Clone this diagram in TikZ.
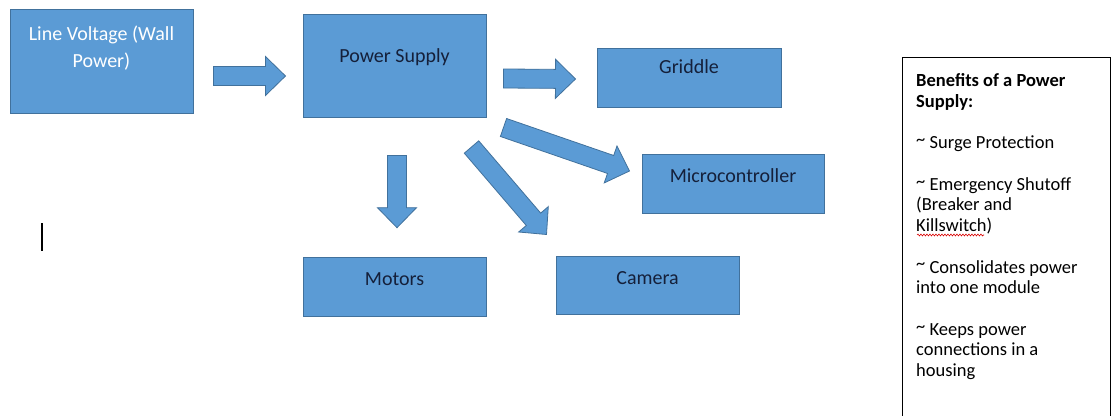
\documentclass[tikz,border=0pt]{standalone}
\usepackage{fontspec}
\setmainfont{Carlito}
\usepackage{xcolor}
\usepackage{tikz}
\usetikzlibrary{calc,positioning,decorations.pathmorphing}

\definecolor{boxfill}{HTML}{5B9BD5}
\definecolor{boxline}{HTML}{41719C}
\definecolor{txtdark}{HTML}{15203A}

\newcommand{\tld}{\raisebox{0.35ex}{\textasciitilde}}

% block arrow from #1 (tail centre) to #2 (tip)
\newcommand{\blockarrow}[2]{%
  \coordinate (ba-a) at (#1);
  \coordinate (ba-b) at (#2);
  \coordinate (ba-h) at ($(ba-b)!20pt!(ba-a)$);
  \filldraw[blockarr]
    ($(ba-a)!9.5pt!90:(ba-b)$) -- ($(ba-h)!9.5pt!90:(ba-b)$) --
    ($(ba-h)!19.5pt!90:(ba-b)$) -- (ba-b) --
    ($(ba-h)!19.5pt!-90:(ba-b)$) -- ($(ba-h)!9.5pt!-90:(ba-b)$) --
    ($(ba-a)!9.5pt!-90:(ba-b)$) -- cycle;}

\begin{document}
\begin{tikzpicture}[
  x=1pt, y=-1pt,
  box/.style={draw=boxline, fill=boxfill, line width=1pt, minimum width=183pt, inner sep=0pt},
  lbl/.style={font=\fontsize{20}{27}\selectfont, text=txtdark, inner sep=0pt, anchor=base, align=center},
  blockarr/.style={draw=boxline, fill=boxfill, line width=0.8pt, line join=miter},
  notebox/.style={draw=black, line width=1pt, minimum width=208pt, minimum height=420pt, anchor=north west, inner sep=0pt},
  notetxt/.style={font=\fontsize{18.5}{20.8}\selectfont, text=black, inner sep=0pt, anchor=north west, align=left},
  squiggle/.style={draw=red!85!black, line width=0.6pt, decorate, decoration={snake, amplitude=0.9pt, segment length=3pt}}
]
  \path[use as bounding box, fill=white] (0,0) rectangle (1111,415);
  \clip (0,0) rectangle (1111,415);

  % Boxes
  \node[box, minimum height=104pt] (wall) at (101.5,61) {};
  \node[box, minimum height=103pt] (psu) at (394.5,65.5) {};
  \node[box, minimum width=184pt, minimum height=59pt] (griddle) at (689,77.5) {};
  \node[box, minimum width=182pt, minimum height=59pt] (micro) at (733,183.5) {};
  \node[box, minimum height=59pt] (motors) at (394.5,286.7) {};
  \node[box, minimum height=58pt] (camera) at (647.5,285) {};

  % Box texts
  \node[lbl, text=white] (walltxt) at ([yshift=-59pt]wall.north) {Line Voltage (Wall\\Power)};
  \node[lbl] (psutxt) at ([yshift=-49pt]psu.north) {Power Supply};
  \node[lbl] (griddletxt) at ([yshift=-26pt]griddle.north) {Griddle};
  \node[lbl] (microtxt) at ([yshift=-29pt]micro.north) {Microcontroller};
  \node[lbl] (motorstxt) at ([yshift=-29pt]motors.north) {Motors};
  \node[lbl] (cameratxt) at ([yshift=-29pt]camera.north) {Camera};

  % Arrows
  \blockarrow{[shift={(20,15)}]wall.east}{[shift={(-17,10.5)}]psu.west}
  \blockarrow{[shift={(17,13)}]psu.east}{[shift={(-21,1.5)}]griddle.west}
  \blockarrow{[shift={(2.5,38)}]psu.south}{[shift={(2.5,-29)}]motors.north}
  \blockarrow{[shift={(-15,29.5)}]psu.south east}{[shift={(-9,-21)}]camera.north west}
  \blockarrow{[shift={(17,10)}]psu.south east}{[shift={(-12,-12.5)}]micro.west}

  % Benefits box
  \node[notebox] (benefits) at (902,57) {};
  \node[notetxt] (benefitstxt) at ([shift={(14,16.5)}]benefits.north west) {%
    \textbf{Benefits of a Power}\\
    \textbf{Supply:}\\[20.5pt]
    \tld{} Surge Protection\\[20.5pt]
    \tld{} Emergency Shutoff\\
    (Breaker and\\
    Killswitch)\\[20.5pt]
    \tld{} Consolidates power\\
    into one module\\[20.5pt]
    \tld{} Keeps power\\
    connections in a\\
    housing};
  \draw[squiggle] (917,235) -- (984,235);

  % text cursor
  \draw[line width=1.3pt] (42,223) -- (42,251);
\end{tikzpicture}
\end{document}
